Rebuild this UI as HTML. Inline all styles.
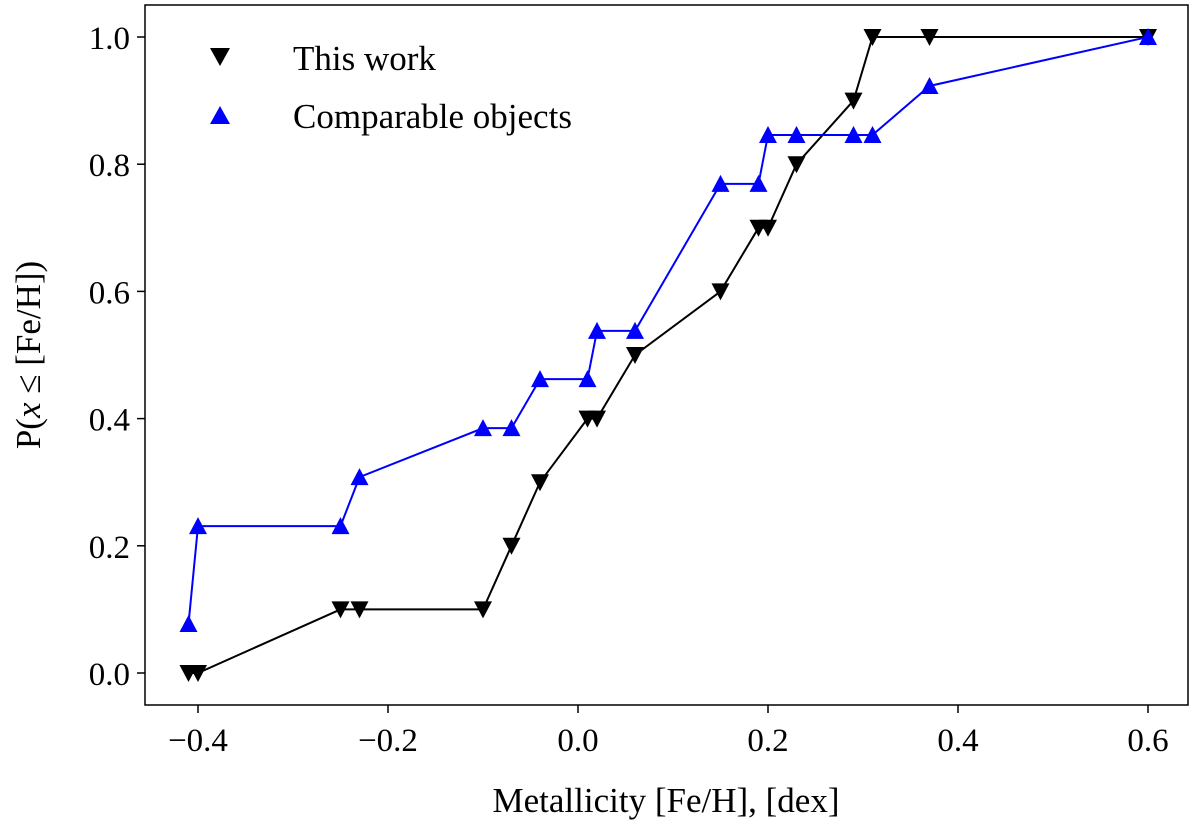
<!DOCTYPE html>
<html><head><meta charset="utf-8"><style>
html,body{margin:0;padding:0;background:#fff;}
svg{display:block;font-family:"Liberation Serif","DejaVu Serif",serif;}
</style></head><body>
<svg id="chart" width="1200" height="825" viewBox="0 0 1200 825">
<g id="marks"></g>
<rect x="145" y="5" width="1043" height="700" fill="none" stroke="#000" stroke-width="1.5"/>
<g id="axes"></g>
<g>
<path d="M210,48 L230,48 L220,66 Z" fill="#000"/>
<text x="293" y="70" font-size="35">This work</text>
<path d="M210,124 L230,124 L220,106 Z" fill="#0000ff"/>
<text x="293" y="128" font-size="35">Comparable objects</text>
</g>
<text x="666" y="812" font-size="35" text-anchor="middle">Metallicity [Fe/H], [dex]</text>
<text transform="translate(40,355) rotate(-90)" font-size="35" text-anchor="middle">P(<tspan font-style="italic">x</tspan> ≤ [Fe/H])</text>
</svg>
<script>
const blackX=[-0.41,-0.40,-0.25,-0.23,-0.10,-0.07,-0.04,0.01,0.02,0.06,0.15,0.19,0.20,0.23,0.29,0.31,0.37,0.60];
const blackY=[0,0,0.1,0.1,0.1,0.2,0.3,0.4,0.4,0.5,0.6,0.7,0.7,0.8,0.9,1.0,1.0,1.0];
const blueX=[-0.41,-0.40,-0.25,-0.23,-0.10,-0.07,-0.04,0.01,0.02,0.06,0.15,0.19,0.20,0.23,0.29,0.31,0.37,0.60];
const blueY=[0.077,0.231,0.231,0.308,0.385,0.385,0.462,0.462,0.538,0.538,0.769,0.769,0.846,0.846,0.846,0.846,0.923,1.0];
const xTicks=[-0.4,-0.2,0.0,0.2,0.4,0.6];
const xTickLabels=["\u22120.4","\u22120.2","0.0","0.2","0.4","0.6"];
const yTicks=[0,0.2,0.4,0.6,0.8,1.0];
const yTickLabels=["0.0","0.2","0.4","0.6","0.8","1.0"];
const NS="http://www.w3.org/2000/svg";
function xs(v){return 578+v*950;}
function ys(v){return 673-v*636;}
const marks=document.getElementById('marks'),axes=document.getElementById('axes');
function mk(tag,attrs,parent){const e=document.createElementNS(NS,tag);for(const k in attrs)e.setAttribute(k,attrs[k]);parent.appendChild(e);return e;}
function series(X,Y,color,down,name){
  const pts=X.map((x,i)=>xs(x)+','+ys(Y[i])).join(' ');
  const l=mk('polyline',{points:pts,fill:'none',stroke:color,'stroke-width':2},marks);
  
  
  X.forEach((x,i)=>{
    const cx=xs(x),cy=ys(Y[i]);
    const d=down?`M${cx-9},${cy-8} L${cx+9},${cy-8} L${cx},${cy+9} Z`:`M${cx-9},${cy+8} L${cx+9},${cy+8} L${cx},${cy-9} Z`;
    const p=mk('path',{d:d,fill:color},marks);
    
    
  });
}
series(blackX,blackY,'#000',true,'this-work');
series(blueX,blueY,'#0000ff',false,'comparable');
xTicks.forEach((t,i)=>{
  const x=xs(t);
  const tk=mk('line',{x1:x,x2:x,y1:705,y2:713,stroke:'#000','stroke-width':1.5},axes);
  
  
  const tx=mk('text',{x:x,y:751,'font-size':33,'text-anchor':'middle'},axes);
  tx.textContent=xTickLabels[i];
  
  
});
yTicks.forEach((t,i)=>{
  const y=ys(t);
  const tk=mk('line',{x1:137,x2:145,y1:y,y2:y,stroke:'#000','stroke-width':1.5},axes);
  
  
  const tx=mk('text',{x:130,y:y+12,'font-size':33,'text-anchor':'end'},axes);
  tx.textContent=yTickLabels[i];
  
  
});
</script>
</body></html>
